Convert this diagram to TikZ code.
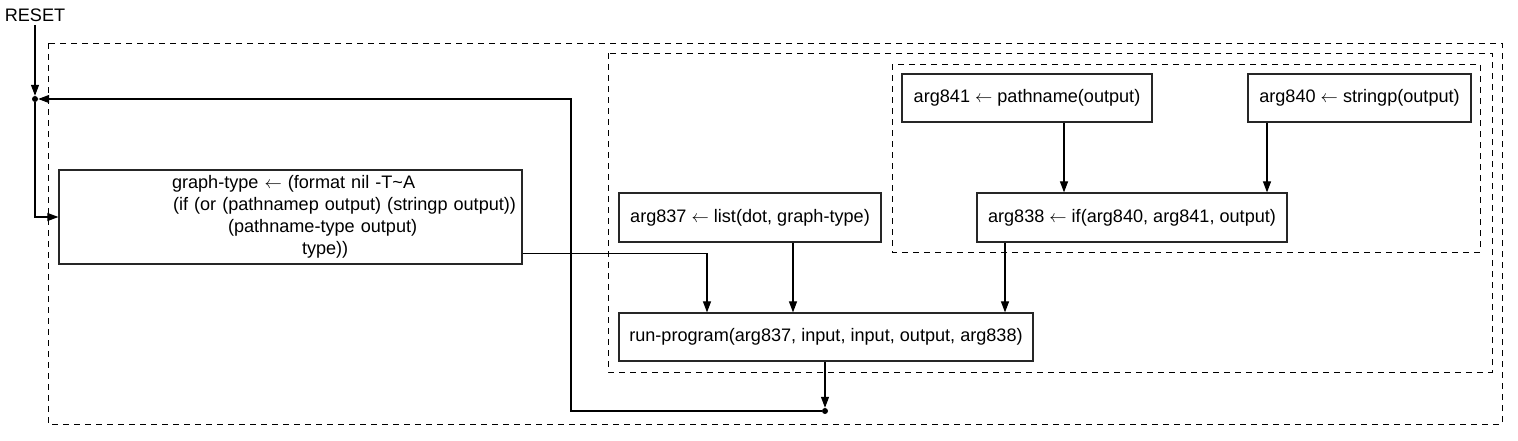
\documentclass[tikz,border=0pt]{standalone}
\usepackage{fontspec}
\setmainfont{Liberation Sans}
\usetikzlibrary{arrows.meta,calc}
\newcommand{\larr}{$\leftarrow$}
\begin{document}
\begin{tikzpicture}[x=1pt,y=-1pt,
  every node/.style={font=\fontsize{18.1}{22}\selectfont},
  box/.style={draw=black!85,line width=1.2pt,rectangle,inner sep=0pt},
  cluster/.style={draw=black,line width=1pt,dash pattern=on 6pt off 5pt},
  conn/.style={draw=black,line width=1.1pt},
  arr/.style={conn,-{Triangle[length=11pt,width=8pt]}},
  jdot/.style={circle,fill=black,inner sep=0pt,minimum size=6pt}]
\useasboundingbox (0,0) rectangle (1518,440);
% clusters
\draw[cluster] (48,43) rectangle (1502,424);
\draw[cluster] (608,53) rectangle (1492,372);
\draw[cluster] (892,64) rectangle (1480,252);
% nodes
\node (reset) at (35,15) {RESET};
\node[jdot] (d1) at (35,99) {};
\node[jdot] (d2) at (825,411) {};
\node[box,minimum width=463pt,minimum height=94pt,text width=463pt,align=left] (gt) at (290.5,217)
  {\hspace*{113pt}graph-type \larr{} (format nil -T\textasciitilde A\\
   \hspace*{114pt}(if (or (pathnamep output) (stringp output))\\
   \hspace*{169pt}(pathname-type output)\\
   \hspace*{243pt}type))};
\node[box,minimum width=262pt,minimum height=49pt] (a837) at (750,217.5) {arg837 \larr{} list(dot, graph-type)};
\node[box,minimum width=414pt,minimum height=48pt] (run) at (826,337) {run-program(arg837, input, input, output, arg838)};
\node[box,minimum width=250pt,minimum height=48pt] (a841) at (1027,98) {arg841 \larr{} pathname(output)};
\node[box,minimum width=223pt,minimum height=48pt] (a840) at (1359.5,98) {arg840 \larr{} stringp(output)};
\node[box,minimum width=310pt,minimum height=49pt] (a838) at (1132,217.5) {arg838 \larr{} if(arg840, arg841, output)};
\coordinate (c1) at (571,411);
\coordinate (c2) at (571,99);
% connectors
\draw[arr] (reset) -- (d1);
\draw[arr] (d1) |- (gt.west);
\draw[arr] ([yshift=11pt]gt.south east) -| ([xshift=-119pt]run.north);
\draw[arr] ([xshift=43pt]a837.south) -- ([xshift=43pt]a837.south |- run.north);
\draw[arr] ([xshift=-127pt]a838.south) -- ([xshift=-127pt]a838.south |- run.north);
\draw[arr] ([xshift=37pt]a841.south) -- ([xshift=37pt]a841.south |- a838.north);
\draw[arr] ([xshift=-92.5pt]a840.south) -- ([xshift=-92.5pt]a840.south |- a838.north);
\draw[arr] (run.south -| d2) -- (d2);
\draw[arr] (d2) -- (c1) -- (c2) -- (d1);
\end{tikzpicture}
\end{document}
